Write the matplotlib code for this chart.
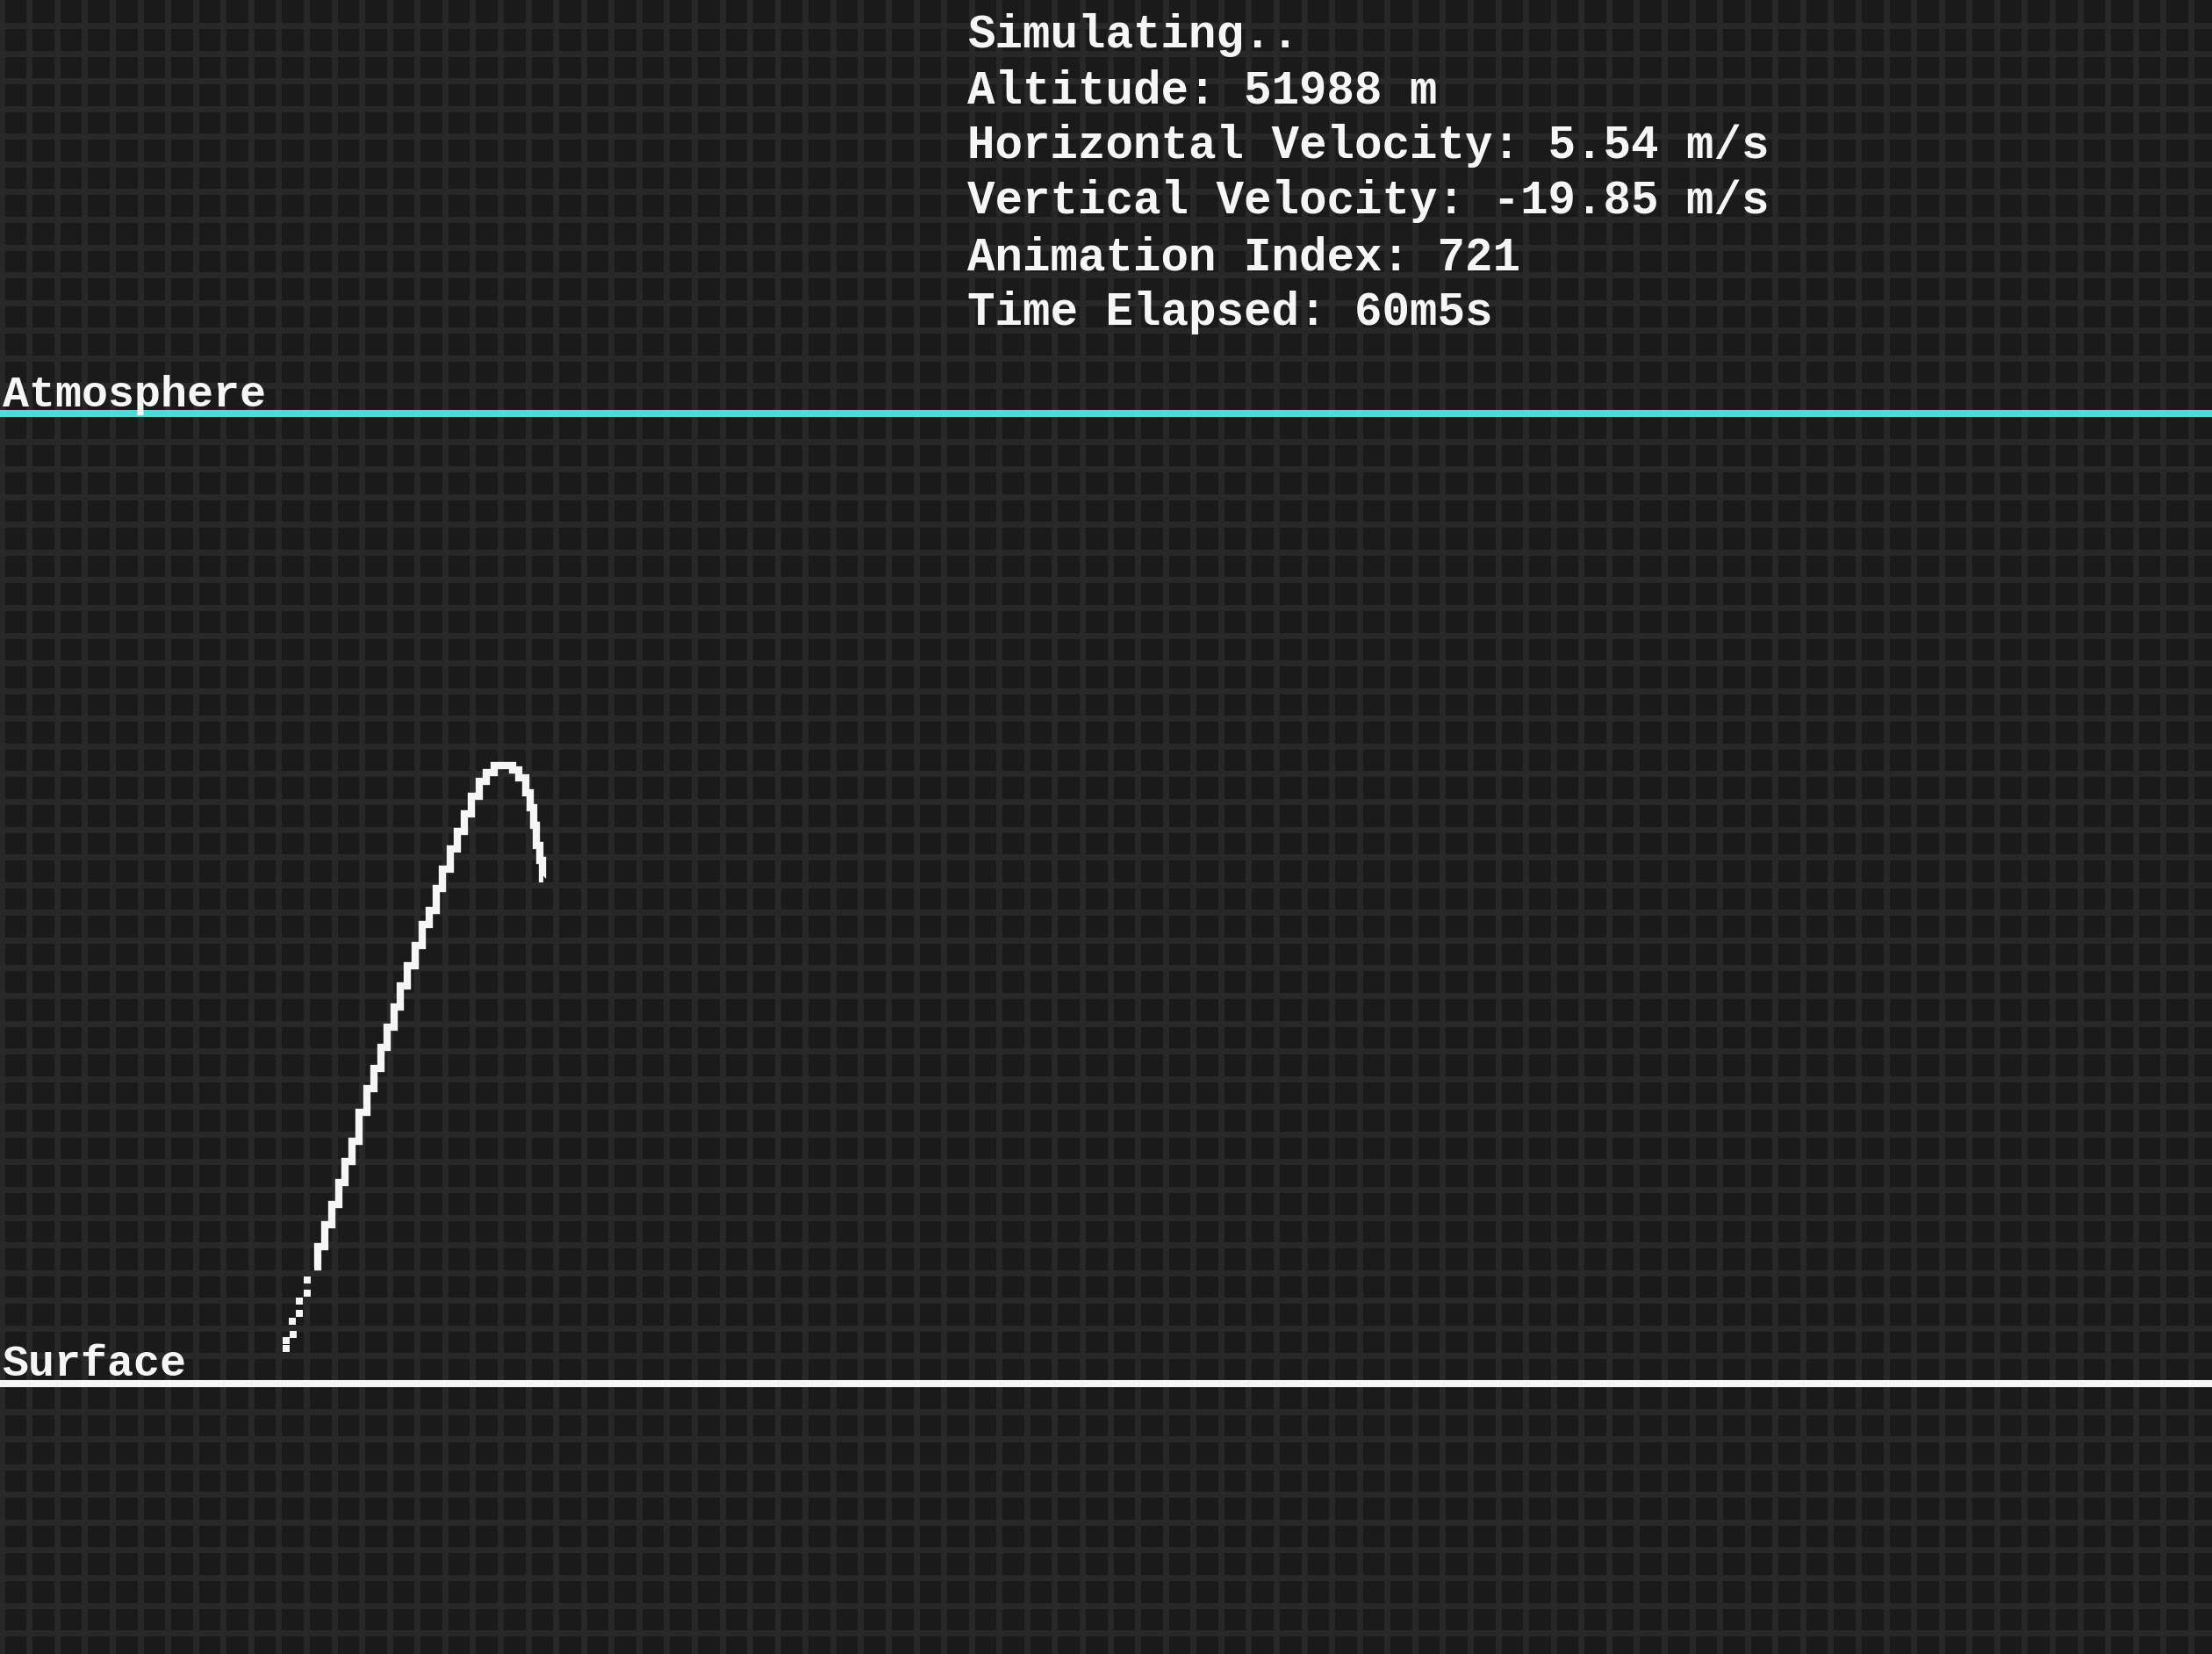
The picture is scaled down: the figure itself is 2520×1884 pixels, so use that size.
import numpy as np
import matplotlib.pyplot as plt
from matplotlib import transforms

# altitude of the two reference lines, km
surface_alt = 0.0
atmosphere_alt = 100.0

# early (sparse) samples after launch, downrange km / altitude km
early_x = [0.0, 0.0, 0.7, 0.6, 1.4, 1.4, 2.2, 2.2]
early_alt = [3.6, 4.4, 5.1, 6.4, 7.2, 8.5, 9.3, 10.7]

# rest of the flight path
traj_x = [2.9, 3.7, 4.3, 5.1, 5.7, 6.4, 7.2, 7.9, 8.7, 9.4, 10.1, 10.8,
          11.5, 12.1, 12.9, 13.7, 14.4, 15.1, 15.8, 16.5, 17.3, 18.0,
          18.7, 19.5, 20.3, 21.0, 21.9, 23.0, 23.7, 24.3, 25.1, 25.3,
          25.7, 25.9, 26.4, 26.5]
traj_alt = [12.0, 14.1, 16.4, 18.5, 20.7, 22.9, 25.0, 28.0, 30.4, 32.5,
            34.7, 36.7, 38.8, 41.0, 43.1, 45.2, 47.3, 48.8, 51.0, 53.0,
            55.1, 56.9, 58.7, 60.5, 62.1, 63.0, 63.7, 63.7, 63.3, 62.4,
            60.9, 59.4, 57.6, 55.5, 53.9, 52.0]

status_lines = [
    "Simulating..",
    "Altitude: 51988 m",
    "Horizontal Velocity: 5.54 m/s",
    "Vertical Velocity: -19.85 m/s",
    "Animation Index: 721",
    "Time Elapsed: 60m5s",
]

BG = "#1a1a1a"
GRID = "#282828"
FG = "#f6f6f6"
CYAN = "#52dada"


def plot_sim():
    W, H = 2520, 1884
    px_per_km = 11.05
    launch_px, surface_px = 326, 1576

    fig = plt.figure(figsize=(W / 100, H / 100), dpi=100)
    fig.patch.set_facecolor(BG)
    ax = fig.add_axes([0, 0, 1, 1])
    ax.set_facecolor(BG)
    ax.set_xlim(-launch_px / px_per_km, (W - launch_px) / px_per_km)
    ax.set_ylim((surface_px - H) / px_per_km, surface_px / px_per_km)

    # background grid, one cell = 1/35 of the atmosphere height
    cell = (atmosphere_alt - surface_alt) / 35
    xlo, xhi = ax.get_xlim()
    ylo, yhi = ax.get_ylim()
    ax.set_xticks(np.arange(-0.78 - 12 * cell, xhi, cell))
    ax.set_yticks(np.arange(surface_alt - 12 * cell, yhi + cell, cell))
    ax.grid(True, color=GRID, linewidth=5.0)
    ax.tick_params(length=0, labelbottom=False, labelleft=False)
    ax.set_xlim(xlo, xhi)
    ax.set_ylim(ylo, yhi)
    for s in ax.spines.values():
        s.set_visible(False)

    ax.axhline(atmosphere_alt, color=CYAN, linewidth=5.8)
    ax.axhline(surface_alt, color=FG, linewidth=5.8)

    trans = transforms.blended_transform_factory(ax.transAxes, ax.transData)
    label_font = dict(family="Liberation Mono", weight="bold", fontsize=36,
                      color=FG, va="baseline", ha="left")
    ax.text(0.001, atmosphere_alt + 0.7, "Atmosphere", transform=trans, **label_font)
    ax.text(0.001, surface_alt + 0.8, "Surface", transform=trans, **label_font)

    # flight path
    ax.plot(early_x, early_alt, "s", color=FG, markersize=6, markeredgewidth=0)
    ax.plot(traj_x, traj_alt, color=FG, linewidth=6, drawstyle="steps-mid",
            solid_joinstyle="miter", solid_capstyle="butt")

    baselines = [54, 118, 180, 243, 307, 370]
    for line, b in zip(status_lines, baselines):
        fig.text(1102 / W, 1 - b / H, line, family="Liberation Mono",
                 weight="bold", fontsize=37.8, color=FG, va="baseline", ha="left")

    fig.savefig("out.png", dpi=100, facecolor=BG)


plot_sim()
